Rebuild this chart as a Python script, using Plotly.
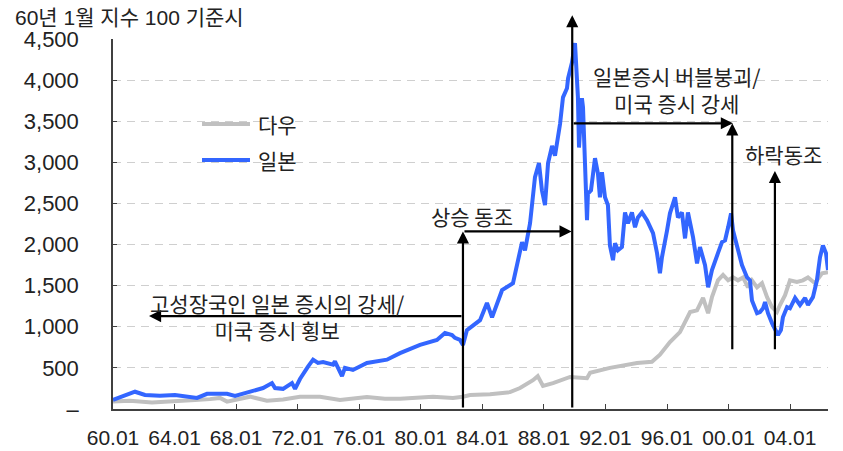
import plotly.graph_objects as go

# ---------------- data ----------------
jp_year = [1960.00, 1961.43, 1962.08, 1963.05, 1964.03, 1965.46, 1966.11, 1967.41, 1967.93, 1968.90,
           1969.75, 1970.33, 1970.53, 1971.05, 1971.63, 1971.83, 1972.15, 1972.67, 1973.00, 1973.32,
           1973.65, 1974.30, 1974.42, 1974.88, 1975.07, 1975.59, 1976.50, 1977.80, 1978.65, 1979.95,
           1981.05, 1981.57, 1982.03, 1982.22, 1982.55, 1982.74, 1983.00, 1983.85, 1984.30, 1984.63,
           1985.28, 1985.99, 1986.25, 1986.58, 1986.77, 1987.10, 1987.42, 1987.68, 1987.87, 1988.07,
           1988.27, 1988.53, 1988.72, 1989.05, 1989.24, 1989.50, 1989.57, 1989.82, 1990.02, 1990.21,
           1990.28, 1990.47, 1990.54, 1990.67, 1990.80, 1990.86, 1991.06, 1991.32, 1991.51, 1991.64,
           1991.77, 1991.97, 1992.16, 1992.29, 1992.49, 1992.62, 1992.81, 1993.07, 1993.27, 1993.46,
           1993.72, 1993.92, 1994.11, 1994.37, 1994.70, 1995.09, 1995.35, 1995.54, 1995.67, 1996.00,
           1996.19, 1996.52, 1996.71, 1996.97, 1997.17, 1997.36, 1997.69, 1997.95, 1998.14, 1998.47,
           1998.67, 1998.92, 1999.12, 1999.31, 1999.57, 1999.77, 1999.97, 2000.16, 2000.29, 2000.55,
           2000.87, 2001.20, 2001.39, 2001.52, 2001.85, 2002.04, 2002.24, 2002.37, 2002.56, 2002.82,
           2003.01, 2003.21, 2003.40, 2003.53, 2003.80, 2003.99, 2004.32, 2004.64, 2004.97, 2005.16,
           2005.48, 2005.74, 2005.94, 2006.13, 2006.33, 2006.46]
jp_val = [110, 210, 170, 160, 170, 135, 185, 185, 160, 210,
          255, 315, 255, 245, 315, 245, 365, 515, 600, 560,
          570, 540, 580, 400, 500, 475, 560, 600, 680, 780,
          840, 925, 900, 865, 840, 780, 960, 1080, 1290, 1115,
          1445, 1530, 1770, 2030, 1930, 2260, 2820, 2990, 2660, 2480,
          2990, 3200, 3080, 3470, 3790, 3900, 4020, 4210, 4450, 3790,
          3180, 3780, 3670, 2990, 2295, 2620, 2660, 3050, 2865, 2575,
          2880, 2575, 2480, 1990, 1810, 2015, 1930, 1970, 2390, 2260,
          2390, 2210, 2330, 2390, 2295, 2140, 1895, 1650, 1845, 2170,
          2380, 2575, 2330, 2390, 2075, 2390, 2090, 1770, 1970, 1750,
          1480, 1690, 1810, 1895, 2030, 2050, 2210, 2380, 2170, 1990,
          1750, 1600, 1565, 1320, 1165, 1180, 1225, 1300, 1165, 1045,
          985, 900, 960, 1115, 1240, 1225, 1350, 1265, 1350, 1265,
          1360, 1565, 1845, 1990, 1895, 1690]

dow_year = [1960.00, 1961.10, 1962.53, 1964.03, 1965.33, 1966.30, 1966.95, 1967.41, 1968.90, 1970.00,
            1971.05, 1972.15, 1973.45, 1974.75, 1976.50, 1977.67, 1978.65, 1980.79, 1982.09, 1982.74,
            1983.20, 1984.50, 1985.80, 1986.45, 1987.29, 1987.60, 1987.94, 1988.59, 1989.70, 1990.80,
            1991.00, 1992.29, 1994.05, 1995.02, 1995.54, 1996.19, 1996.84, 1997.50, 1997.95, 1998.34,
            1998.67, 1998.92, 1999.31, 1999.64, 1999.97, 2000.29, 2000.61, 2000.94, 2001.26, 2001.52,
            2001.85, 2002.17, 2002.50, 2002.82, 2003.14, 2003.34, 2003.67, 2003.99, 2004.44, 2004.83,
            2005.16, 2005.61, 2006.07, 2006.46]
dow_val = [90, 100, 78, 100, 110, 120, 135, 90, 150, 100,
           115, 150, 150, 110, 145, 125, 125, 150, 135, 150,
           170, 180, 205, 255, 350, 400, 280, 315, 390, 375,
           440, 500, 560, 575, 660, 815, 935, 1180, 1200, 1350,
           1165, 1360, 1565, 1630, 1565, 1600, 1565, 1600, 1480, 1565,
           1480, 1530, 1360, 1240, 1180, 1265, 1385, 1565, 1545, 1565,
           1600, 1530, 1650, 1665]

x_tick_vals = [1960, 1964, 1968, 1972, 1976, 1980, 1984, 1988, 1992, 1996, 2000, 2004]
x_tick_text = ["60.01", "64.01", "68.01", "72.01", "76.01", "80.01",
               "84.01", "88.01", "92.01", "96.01", "00.01", "04.01"]
y_tick_vals = [0, 500, 1000, 1500, 2000, 2500, 3000, 3500, 4000, 4500]
y_tick_text = ["–", "500", "1,000", "1,500", "2,000", "2,500", "3,000", "3,500", "4,000", "4,500"]

series_names = ["다우", "일본"]
series_colors = ["#C0C0C0", "#3366FF"]
title_text = "60년 1월 지수 100 기준시"

FONT = "Liberation Sans, Noto Sans CJK KR, sans-serif"
KFONT = "Noto Sans CJK KR, sans-serif"
TXT = "#222222"

fig = go.Figure()
fig.add_trace(go.Scatter(x=dow_year, y=dow_val, mode="lines", name=series_names[0],
                         line=dict(color=series_colors[0], width=4)))
fig.add_trace(go.Scatter(x=jp_year, y=jp_val, mode="lines", name=series_names[1],
                         line=dict(color=series_colors[1], width=4)))

# ---------------- arrows ----------------
arrows = [
    # (tail_x, tail_y, head_x, head_y)
    (1982.74, 0, 1982.74, 2160),
    (1982.74, 2160, 1989.80, 2160),
    (1989.84, 0, 1989.84, 4790),
    (1989.84, 3475, 2000.28, 3475),
    (2000.24, 708, 2000.24, 3475),
    (2003.01, 708, 2003.01, 2895),
    (1982.74, 1130, 1962.34, 1130),
]
for tx, ty, hx, hy in arrows:
    fig.add_annotation(x=hx, y=hy, ax=tx, ay=ty, xref="x", yref="y", axref="x", ayref="y",
                       text="", showarrow=True, arrowhead=2, arrowsize=1.1, arrowwidth=2.2,
                       arrowcolor="#000000", standoff=0, startstandoff=0)

labels = [
    ("고성장국인 일본 증시의 강세/<br>미국 증시 횡보", 1970.66, 1125),
    ("상승 동조", 1983.33, 2347),
    ("일본증시 버블붕괴/<br>미국 증시 강세", 1996.68, 3880),
    ("하락동조", 2003.60, 3101),
]
for t, lx, ly in labels:
    fig.add_annotation(x=lx, y=ly, xref="x", yref="y", text=t, showarrow=False,
                       font=dict(family=KFONT, size=21, color=TXT), align="center",
                       xanchor="center", yanchor="middle")

# title (y-axis unit note)
fig.add_annotation(x=0, y=1, xref="paper", yref="paper", xshift=-100, yshift=22,
                   text=title_text, showarrow=False, xanchor="left", yanchor="middle",
                   font=dict(family=FONT, size=21, color=TXT))

# legend drawn as line samples + labels
legend_y = [0.7703, 0.673]
for name, col, ly in zip(series_names, series_colors, legend_y):
    fig.add_shape(type="line", xref="paper", yref="paper", x0=0.1245, x1=0.1916, y0=ly, y1=ly,
                  line=dict(color=col, width=4))
    fig.add_annotation(x=0.2, y=ly, xref="paper", yref="paper", text=name, showarrow=False,
                       xanchor="left", yanchor="middle",
                       font=dict(family=KFONT, size=21, color=TXT))

fig.update_layout(
    width=843, height=451,
    margin=dict(l=113, r=15, t=39, b=42, autoexpand=False),
    paper_bgcolor="white", plot_bgcolor="white",
    showlegend=False,
    font=dict(family=FONT, size=21, color=TXT),
)
fig.update_xaxes(range=[1960, 2006.46], tickmode="array", tickvals=x_tick_vals, ticktext=x_tick_text,
                 showgrid=False, zeroline=False, showline=True, linecolor="#404040", linewidth=1.5,
                 ticks="inside", ticklen=5, tickwidth=1, tickcolor="#404040", automargin=False,
                 ticklabelstandoff=9, tickfont=dict(family=FONT, size=21, color=TXT))
fig.update_yaxes(range=[0, 4500], tickmode="array", tickvals=y_tick_vals, ticktext=y_tick_text,
                 showgrid=True, gridcolor="#CFCFCF", gridwidth=1, griddash="8px,6px",
                 zeroline=False, showline=True, linecolor="#404040", linewidth=1.5,
                 ticks="inside", ticklen=4, tickwidth=1, tickcolor="#404040", automargin=False,
                 ticklabelstandoff=28, tickfont=dict(family=FONT, size=22, color=TXT))

# remove the default 8px page margin so the 843x451 figure fills the window exactly
fig.write_html("out.html", config={"displayModeBar": False},
               post_script="document.body.style.margin='0';")
